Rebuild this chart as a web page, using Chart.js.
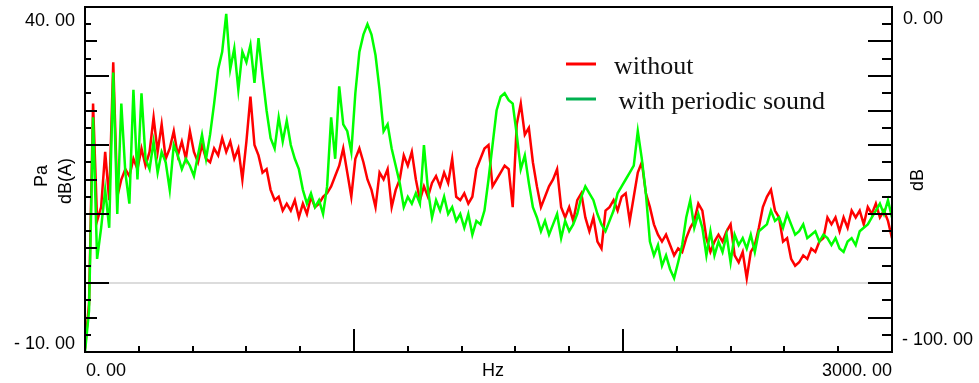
<!DOCTYPE html>
<html><head><meta charset="utf-8">
<script src="https://cdn.jsdelivr.net/npm/chart.js@4/dist/chart.umd.min.js"></script>
<style>html,body{margin:0;padding:0;background:#fff;overflow:hidden}#wrap{width:979px;height:383px;position:relative}</style>
</head><body><div id="wrap"><canvas id="c" width="979" height="383"></canvas></div>
<script>
// ---- data (frequency grid: one sample every freqStepHz, from 0 Hz to 3000 Hz) ----
const freqStepHz = 15;
const withoutSound = [
-9.5,-3,26,9,11,19,12,32,12.5,15,16.5,15.5,18,16.5,19.5,17,19,24,19,23,18,19.5,22,18.5,20.5,18,22,19,17.5,20,18,17.5,19.5,18.5,21,19,20.5,18,19.5,15,20.5,27,20,18.5,16,16.5,13.5,12,12.5,10.5,11.5,
10.5,12,9.5,11.5,10,12.5,11,11.5,12.5,13,14,15.5,17,19.5,16,12.5,18,19.5,17.5,15,13.5,11,16,15,16.5,11,13.5,15,18.5,17,19,15,12,14,12.5,14.5,15.5,14,16,14.5,18,12.5,12,13,11.5,12.5,16.5,18,19.5,20,
14,15,16,17,16.5,11,23,26,21.5,22.5,17.5,14,11,12.5,14,15,16.5,11,9.5,11,9,12,13,9.5,7.5,9.5,6,5,10.5,11,12,10.5,12.5,13,9,12.5,16,17.5,13,11,8.5,7,6,7,5.5,4,5,4.5,6.5,8,
9,11.5,10.5,6.5,4.5,6,7,6,7.5,8.5,4,3,4.5,0.7,4.5,5.5,8,11,12.5,13.5,10.5,9.5,6,6.5,3.5,2.5,3,4,3.5,5,4.5,6,6.5,9.5,8.5,9.5,7.5,9.5,8,10.5,9.5,10.5,8.5,11,10,11.5,9.5,10.5,9,6.5
];
const withPeriodicSound = [
-10,-4,24,3.5,8,13.5,8,30.5,10,26,16,11.5,28,15,27.5,18,16.5,20.5,16,19,17.5,13.5,20,18.5,16.5,18,17,15.5,18.5,21.5,18,21.5,26,31,33.5,39,31,34,28,33.5,32,34.5,29,35.5,30,25,21,19.5,24,20.5,23.5,
20,18,16.5,13.5,11.5,13,11,12,10,14,24,18,28.5,23,22,19,27.5,33.5,36,37.5,36,33,28,22,23,19.5,17,14.5,11,12.5,11.5,13,11.5,20,13.5,9.5,12,10.5,12.5,10,11,9,10,8,10,7,9,8.5,10.5,15,
20,25,27,27.5,26.5,26,21.5,16.5,18.5,14.5,11,9.5,7.5,9,7,8.5,10,6.5,9,7.5,8.5,10,12.5,14,13,12,10,8.5,7.5,9,10.5,13,14,15,16,17,22,18,13,6,4,5.5,2.5,4,2,0.7,3,5.5,9.5,12,
8,10,8,4,7.5,4,6,4.5,7,3,7,5.5,6.5,5,7,4.5,7.5,8,8.5,10.5,9,9.5,8,10,8.5,7,7.5,8.5,6.5,7,7.5,6,7,6.5,5.5,6.5,5,4.5,6,6.5,5.5,7.5,8,8.5,9.5,10.5,11.5,10,12,9.5
];
const seriesNames = ["without", " with periodic sound"];
const xRangeHz = [0, 3000];
const leftRange = [-10, 40];
const rightRange = [-100, 0];
const leftTickLabels = ["40. 00", "- 10. 00"];
const rightTickLabels = ["0. 00", "- 100. 00"];
const xTickLabels = ["0. 00", "Hz", "3000. 00"];
const leftTitles = ["Pa", "dB(A)"];
const rightTitle = "dB";

const RED = '#ff0000', GREEN = '#00ff00', LEGEND_GREEN = '#00b050';
const toPoints = arr => arr.map((v, i) => ({x: i * freqStepHz, y: v}));

const decor = {
  id: 'decor',
  beforeDatasetsDraw(chart) {
    const {ctx, chartArea: a, scales: {y}} = chart;
    ctx.save();
    ctx.strokeStyle = '#dcdcdc'; ctx.lineWidth = 2;
    const y0 = Math.round(y.getPixelForValue(0));
    ctx.beginPath(); ctx.moveTo(a.left, y0); ctx.lineTo(a.right, y0); ctx.stroke();
    ctx.restore();
  },
  afterDatasetsDraw(chart) {
    const {ctx, chartArea: a, scales: {x, y, y2}} = chart;
    ctx.save();
    ctx.strokeStyle = '#000'; ctx.lineWidth = 2;
    ctx.strokeRect(a.left, a.top, a.right - a.left, a.bottom - a.top);
    ctx.beginPath();
    for (let v = leftRange[0]; v <= leftRange[1] + 1e-9; v += 2.5) {
      const p = Math.round(y.getPixelForValue(v));
      const len = (v % 10 === 0) ? 24 : (v % 5 === 0 ? 12 : 6);
      ctx.moveTo(a.left, p); ctx.lineTo(a.left + len, p);
    }
    for (let v = rightRange[0]; v <= rightRange[1] + 1e-9; v += 5) {
      const p = Math.round(y2.getPixelForValue(v));
      const len = (v % 10 === 0) ? 24 : 10;
      ctx.moveTo(a.right, p); ctx.lineTo(a.right - len, p);
    }
    for (let f = xRangeHz[0] + 200; f < xRangeHz[1]; f += 200) {
      const p = Math.round(x.getPixelForValue(f));
      const len = (f % 1000 === 0) ? 23 : 6;
      ctx.moveTo(p, a.bottom); ctx.lineTo(p, a.bottom - len);
    }
    ctx.stroke();

    ctx.fillStyle = '#000';
    ctx.font = '18px "Liberation Sans", Arial, sans-serif';
    ctx.textBaseline = 'middle';
    ctx.textAlign = 'right';
    ctx.fillText(leftTickLabels[0], 75, 21);
    ctx.fillText(leftTickLabels[1], 75, 344);
    ctx.textAlign = 'left';
    ctx.fillText(rightTickLabels[0], 903, 19);
    ctx.fillText(rightTickLabels[1], 902, 340);
    ctx.fillText(xTickLabels[0], 86, 371);
    ctx.textAlign = 'center';
    ctx.fillText(xTickLabels[1], 493, 371);
    ctx.textAlign = 'right';
    ctx.fillText(xTickLabels[2], 892, 371);

    ctx.textAlign = 'center';
    const rot = (t, cx, cy) => { ctx.save(); ctx.translate(cx, cy); ctx.rotate(-Math.PI / 2); ctx.fillText(t, 0, 0); ctx.restore(); };
    rot(leftTitles[0], 42, 176);
    rot(leftTitles[1], 66, 181);
    rot(rightTitle, 918, 180);

    ctx.lineWidth = 3;
    ctx.strokeStyle = RED;
    ctx.beginPath(); ctx.moveTo(566, 64); ctx.lineTo(596, 64); ctx.stroke();
    ctx.strokeStyle = LEGEND_GREEN;
    ctx.beginPath(); ctx.moveTo(566, 99); ctx.lineTo(596, 99); ctx.stroke();
    ctx.font = '26px "Liberation Serif", "Times New Roman", serif';
    ctx.textAlign = 'left'; ctx.textBaseline = 'alphabetic';
    ctx.fillStyle = '#111';
    ctx.fillText(seriesNames[0], 614, 74);
    ctx.fillText(seriesNames[1], 612, 109);
    ctx.restore();
  }
};

new Chart(document.getElementById('c'), {
  type: 'line',
  data: {
    datasets: [
      {label: seriesNames[1], data: toPoints(withPeriodicSound), borderColor: GREEN, borderWidth: 2.5, pointRadius: 0, tension: 0, yAxisID: 'y'},
      {label: seriesNames[0], data: toPoints(withoutSound), borderColor: RED, borderWidth: 2.5, pointRadius: 0, tension: 0, yAxisID: 'y'}
    ]
  },
  options: {
    responsive: false, animation: false, devicePixelRatio: 1,
    layout: {padding: {left: 85, right: 87, top: 7, bottom: 31}},
    scales: {
      x: {type: 'linear', min: xRangeHz[0], max: xRangeHz[1], display: false},
      y: {min: leftRange[0], max: leftRange[1], display: false},
      y2: {min: rightRange[0], max: rightRange[1], display: false, position: 'right'}
    },
    plugins: {legend: {display: false}, tooltip: {enabled: false}}
  },
  plugins: [decor]
});
</script>
</body></html>
